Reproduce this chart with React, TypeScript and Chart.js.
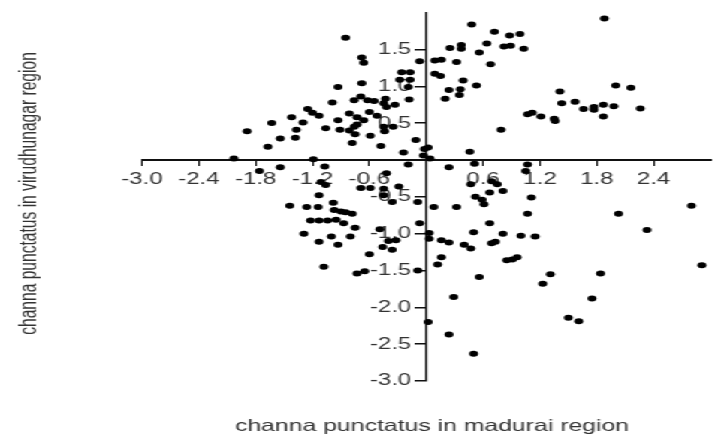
import { useEffect, useRef } from "react";
import { Chart, registerables } from "chart.js";

Chart.register(...registerables);

// Values (x: madurai, y: virudhunagar)
const xValues = [
  -0.85, -0.68, -0.66, -0.07, -0.26, -0.17, -0.28, -0.17, -0.19, -0.93,
  -0.68, -0.69, -0.62, -0.55, -0.76, -0.43, -0.45, -0.42, -0.33, -0.18,
  -0.99, -1.25, -1.2, -1.13, -0.81, -0.73, -0.6, -0.52, -1.42, -1.3,
  -1.63, -0.93, -0.66, -0.76, -0.73, -0.45, -0.35, -1.89, -1.37, -1.06,
  -0.91, -0.81, -0.75, -0.59, -0.44, -1.54, -1.38, -0.78, -0.11, -1.67,
  -0.48, -0.24, -0.02, -0.03, -2.03, -1.19,
  0.48, 0.72, 0.88, 0.99, 1.88, 0.25, 0.37, 0.37, 0.64, 0.82,
  0.89, 1.03, 0.56, 0.09, 0.16, 0.32, 0.68, 0.09, 0.15, 0.39,
  0.53, 0.24, 0.36, 0.35, 0.2, 2.0, 2.16, 1.41, 1.43, 1.57,
  1.66, 1.77, 1.77, 1.87, 1.98, 1.87, 2.26, 1.07, 1.12, 1.21,
  1.35, 1.36, 0.79, 0.02, 0.04, 0.46,
  -1.76, -1.54, -1.07, -0.19, -0.69, -0.59, -0.45, -0.29, -1.11, -1.06,
  -1.13, -0.45, -0.36, -0.09, -1.44, -1.26, -1.14, -0.98, -0.97, -0.9,
  -0.85, -0.78, -1.22, -1.13, -1.04, -0.95, -0.87, -0.75, -0.49, -0.4,
  -0.32, -0.07, -1.29, -1.0, -0.93, -0.8, -1.13, -0.46, -0.36, -0.6,
  -1.08, -0.73, -0.65, -0.09, -0.42,
  0.24, 0.51, 1.07, 1.05, 0.47, 0.69, 0.75, 0.67, 0.81, 0.52,
  0.59, 0.61, 1.11, 0.08, 0.32, 1.07, 2.03, 2.8, 0.67, 2.33,
  0.03, 0.03, 0.5, 0.81, 1.0, 1.15, 0.16, 0.24, 0.4, 0.47,
  0.69, 0.73, 0.16, 0.12, 0.85, 0.91, 0.96, 2.91, 0.56, 1.31,
  1.84, 1.23, 0.29, 0.02, 0.24, 0.5, 1.5, 1.61, 1.75,
];

const yValues = [
  1.66, 1.39, 1.32, 1.34, 1.19, 1.19, 1.09, 1.09, 0.99, 0.99,
  1.04, 0.86, 0.81, 0.8, 0.81, 0.83, 0.77, 0.72, 0.75, 0.82,
  0.78, 0.69, 0.64, 0.6, 0.63, 0.58, 0.65, 0.6, 0.58, 0.51,
  0.5, 0.54, 0.54, 0.45, 0.48, 0.45, 0.45, 0.39, 0.41, 0.43,
  0.41, 0.4, 0.35, 0.33, 0.39, 0.29, 0.3, 0.23, 0.27, 0.18,
  0.19, 0.1, 0.15, 0.06, 0.02, 0.01,
  1.84, 1.74, 1.69, 1.71, 1.92, 1.52, 1.56, 1.51, 1.58, 1.54,
  1.55, 1.51, 1.46, 1.35, 1.36, 1.33, 1.3, 1.17, 1.14, 1.08,
  1.01, 0.95, 0.96, 0.88, 0.83, 1.01, 0.98, 0.93, 0.77, 0.79,
  0.69, 0.72, 0.68, 0.75, 0.73, 0.59, 0.7, 0.62, 0.64, 0.59,
  0.56, 0.53, 0.41, 0.17, 0.02, 0.11,
  -0.15, -0.1, -0.09, -0.06, -0.38, -0.38, -0.39, -0.36, -0.3, -0.34,
  -0.48, -0.48, -0.57, -0.57, -0.62, -0.64, -0.64, -0.58, -0.68, -0.7,
  -0.71, -0.73, -0.82, -0.82, -0.82, -0.81, -0.86, -0.92, -0.94, -1.1,
  -1.09, -0.86, -1.0, -1.04, -1.15, -1.04, -1.11, -1.18, -1.22, -1.28,
  -1.45, -1.54, -1.51, -1.5, -0.18,
  -0.1, -0.05, -0.06, -0.15, -0.33, -0.29, -0.33, -0.44, -0.42, -0.5,
  -0.54, -0.6, -0.51, -0.64, -0.64, -0.73, -0.73, -0.62, -0.86, -0.95,
  -0.99, -1.07, -0.98, -1.0, -1.03, -1.04, -1.09, -1.12, -1.15, -1.2,
  -1.13, -1.11, -1.32, -1.42, -1.36, -1.35, -1.32, -1.43, -1.59, -1.55,
  -1.54, -1.68, -1.86, -2.2, -2.37, -2.63, -2.14, -2.19, -1.88,
];

const xTickValues = [-3.0, -2.4, -1.8, -1.2, -0.6, 0.6, 1.2, 1.8, 2.4];
const yTickValues = [-3.0, -2.5, -2.0, -1.5, -1.0, -0.5, 0.5, 1.0, 1.5];

const xTitle = "channa punctatus in madurai region";
const yTitle = "channa punctatus in virudhunagar region";

// symmetric x range so the centred y axis sits exactly at x = 0
const xMin = -3.0;
const xMax = 3.0;
const yMin = -3.0;
const yMax = 2.0;

const INNER_W = 476;
const STRETCH = 715 / INNER_W;
const FONT = '"Liberation Sans", Arial, Helvetica, sans-serif';

export default function App() {
  const ref = useRef<HTMLCanvasElement>(null);

  useEffect(() => {
    if (!ref.current) return;
    const titles = {
      id: "titles",
      afterDraw(chart: any) {
        const { ctx } = chart;
        ctx.save();
        ctx.fillStyle = "#333";
        ctx.textAlign = "center";
        ctx.textBaseline = "alphabetic";
        ctx.font = `16.5px ${FONT}`;
        ctx.fillText(xTitle, 432 / STRETCH, 431);
        ctx.translate(30 / STRETCH, 193.5);
        ctx.rotate(-Math.PI / 2);
        ctx.font = `15.6px ${FONT}`;
        ctx.textBaseline = "middle";
        ctx.fillText(yTitle, 0, 0);
        ctx.restore();
      },
    };

    const chart = new Chart(ref.current, {
      type: "scatter",
      data: {
        datasets: [
          {
            data: xValues.map((x, i) => ({ x, y: yValues[i] })),
            backgroundColor: "#000",
            borderColor: "#000",
            borderWidth: 0,
            pointRadius: 3,
            pointHoverRadius: 3,
          },
        ],
      },
      options: {
        animation: false,
        responsive: true,
        maintainAspectRatio: false,
        layout: { padding: { left: 94.5, right: -1.9, top: 10, bottom: 60 } },
        plugins: {
          legend: { display: false },
          tooltip: { enabled: false },
        },
        scales: {
          x: {
            type: "linear",
            position: { y: 0 } as any,
            min: xMin,
            max: xMax,
            afterBuildTicks: (s: any) => {
              s.ticks = xTickValues.map((value) => ({ value }));
            },
            afterFit: (s: any) => {
              s.height = 0;
            },
            grid: {
              drawOnChartArea: false,
              drawTicks: true,
              tickLength: 5,
              color: "#111",
              lineWidth: 1,
            },
            border: { display: true, color: "#111", width: 2 },
            ticks: {
              autoSkip: false,
              maxRotation: 0,
              padding: 5,
              color: "#333",
              font: { family: FONT, size: 16 },
              callback: (v: any) => Number(v).toFixed(1),
            },
          },
          y: {
            type: "linear",
            position: "center",
            min: yMin,
            max: yMax,
            afterBuildTicks: (s: any) => {
              s.ticks = yTickValues.map((value) => ({ value }));
            },
            afterFit: (s: any) => {
              s.width = 0;
            },
            grid: {
              drawOnChartArea: false,
              drawTicks: true,
              tickLength: 7,
              color: "#111",
              lineWidth: 1.5,
            },
            border: { display: true, color: "#111", width: 1.3 },
            ticks: {
              autoSkip: false,
              padding: 3,
              color: "#333",
              font: { family: FONT, size: 16 },
              callback: (v: any) => Number(v).toFixed(1),
            },
          },
        },
      },
      plugins: [titles],
    });
    return () => chart.destroy();
  }, []);

  return (
    <div
      style={{
        position: "fixed",
        left: 0,
        top: 0,
        width: INNER_W,
        height: 441,
        transform: `scaleX(${STRETCH})`,
        transformOrigin: "0 0",
        background: "#fff",
      }}
    >
      <canvas ref={ref} style={{ display: "block" }} />
    </div>
  );
}
